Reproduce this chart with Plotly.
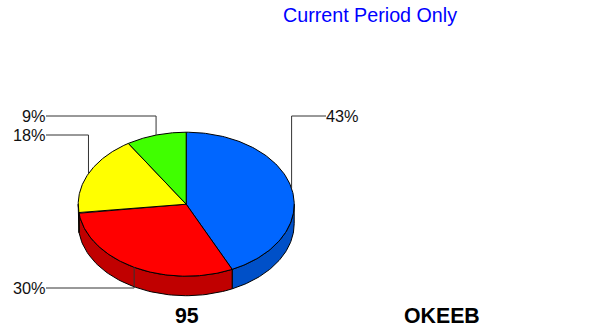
import numpy as np
import plotly.graph_objects as go

# Data
categories = ["A", "B", "C", "D"]
values = [43, 30, 18, 9]
labels = ["43%", "30%", "18%", "9%"]
top_colors = ["#0066ff", "#ff0000", "#ffff00", "#40ff00"]
wall_colors = ["#0050c8", "#c00000", "#c8c800", "#30c800"]
title_text = "Current Period Only"
bottom_labels = ["95", "OKEEB"]

# Pie geometry on a pixel-sized axis
W, H = 605, 327
CX, CY, RX, RY, DEPTH = 186.2, 204.2, 108, 72, 19.5
label_y = [116, 288, 135, 116]
label_x = [326, 46, 46, 46]


def pt(deg, dy=0.0):
    a = np.radians(deg)
    return CX + RX * np.sin(a), CY - RY * np.cos(a) + dy


fig = go.Figure()
total = sum(values)
edges = np.cumsum([0] + values) / total * 360


def poly(x, y, fill):
    fig.add_trace(go.Scatter(
        x=x, y=y, mode="lines", fill="toself", fillcolor=fill,
        line=dict(color="black", width=1), hoverinfo="skip", showlegend=False))


# walls (only front half, angle 90..270)
for i in range(len(values)):
    a0, a1 = max(edges[i], 90), min(edges[i + 1], 270)
    if a1 <= a0:
        continue
    t = np.linspace(a0, a1, 60)
    xt, yt = pt(t)
    xb, yb = pt(t[::-1], DEPTH)
    poly(list(xt) + list(xb) + [xt[0]], list(yt) + list(yb) + [yt[0]], wall_colors[i])

# top faces
for i in range(len(values)):
    t = np.linspace(edges[i], edges[i + 1], 120)
    x, y = pt(t)
    poly([CX] + list(x) + [CX], [CY] + list(y) + [CY], top_colors[i])

# leader lines
for i in range(len(values)):
    mid = (edges[i] + edges[i + 1]) / 2
    ax, ay = pt(mid, DEPTH if 90 < mid < 270 else 0)
    if 90 < mid < 270:
        ay0 = pt(mid)[1]
        xs, ys = [label_x[i], ax, ax], [label_y[i], label_y[i], ay0]
    else:
        xs, ys = [label_x[i], ax, ax], [label_y[i], label_y[i], ay]
    fig.add_trace(go.Scatter(x=xs, y=ys, mode="lines",
                             line=dict(color="#333333", width=1),
                             hoverinfo="skip", showlegend=False))


def text(s, x, y, size, color="black", bold=False, anchor="center"):
    fig.add_annotation(x=x, y=y, xref="x", yref="y", text=f"<b>{s}</b>" if bold else s,
                       showarrow=False, xanchor=anchor, yanchor="middle",
                       font=dict(family="Liberation Sans", size=size, color=color),
                       xshift=0, yshift=0, borderpad=0, borderwidth=0)


for i, s in enumerate(labels):
    text(s, label_x[i] + (-0.5 if label_x[i] < 100 else 0), label_y[i],
         16.3, "#111111", anchor="right" if label_x[i] < 100 else "left")

text(title_text, 370, 15, 19.7, "#0000ff")
text(bottom_labels[0], 186.5, 316, 21.3, "black", True)
text(bottom_labels[1], 442, 316, 21.3, "black", True)

fig.update_layout(
    width=W, height=H, margin=dict(l=0, r=0, t=0, b=0),
    paper_bgcolor="white", plot_bgcolor="white", showlegend=False,
    xaxis=dict(range=[0, W], visible=False, fixedrange=True),
    yaxis=dict(range=[H, 0], visible=False, fixedrange=True),
)
fig.write_html("out.html", config={"displayModeBar": False},
               post_script="document.body.style.margin='0';document.documentElement.style.overflow='hidden';")
